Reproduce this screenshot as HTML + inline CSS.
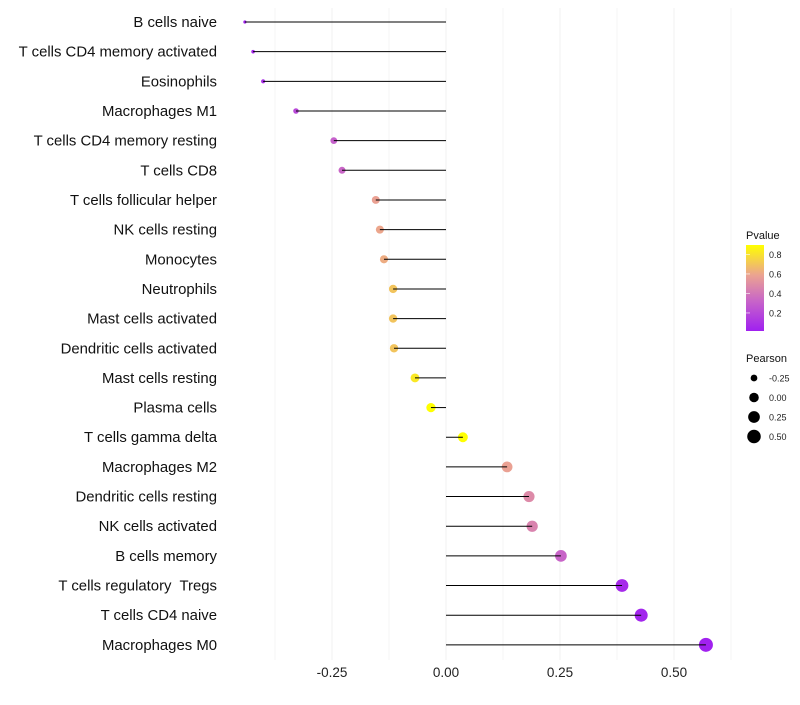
<!DOCTYPE html>
<html><head><meta charset="utf-8"><style>
body{margin:0;background:#fff;font-family:"Liberation Sans",sans-serif}
</style></head><body>
<svg id="c" width="800" height="700" xmlns="http://www.w3.org/2000/svg">
<defs><linearGradient id="pg" x1="0" y1="1" x2="0" y2="0">
<stop offset="0" stop-color="#a020f0"/><stop offset="0.35" stop-color="#c865c8"/><stop offset="0.65" stop-color="#eba391"/><stop offset="1" stop-color="#ffff00"/></linearGradient></defs>
</svg>
<script>
const categories=["B cells naive","T cells CD4 memory activated","Eosinophils","Macrophages M1","T cells CD4 memory resting","T cells CD8","T cells follicular helper","NK cells resting","Monocytes","Neutrophils","Mast cells activated","Dendritic cells activated","Mast cells resting","Plasma cells","T cells gamma delta","Macrophages M2","Dendritic cells resting","NK cells activated","B cells memory","T cells regulatory  Tregs","T cells CD4 naive","Macrophages M0"];
const pearson=[-0.441,-0.423,-0.401,-0.329,-0.246,-0.228,-0.154,-0.145,-0.136,-0.116,-0.116,-0.114,-0.068,-0.033,0.037,0.134,0.182,0.189,0.252,0.386,0.428,0.570];
const pvalue=[0.02,0.05,0.08,0.2,0.3,0.33,0.58,0.6,0.62,0.7,0.7,0.7,0.82,0.9,0.9,0.58,0.48,0.45,0.32,0.06,0.04,0.02];
const xTicks=[-0.25,0,0.25,0.5];
const xTickLabels=["-0.25","0.00","0.25","0.50"];
const pTicks=[0.2,0.4,0.6,0.8];
const sizeLegend=[-0.25,0,0.25,0.5];
const NS="http://www.w3.org/2000/svg",svg=document.getElementById('c');
function x(v){return 446+v*456;}
function y(i){return 22+i*29.66;}
function r(v){return Math.sqrt(Math.max(1,22.8+46*v));}
function pcol(p){const t=Math.max(0,Math.min(1,(p-0.015)/0.882));
 const st=[[0,[160,32,240]],[0.35,[200,101,200]],[0.65,[235,163,145]],[1,[255,255,0]]];
 for(let k=1;k<st.length;k++){if(t<=st[k][0]){const a=st[k-1],b=st[k],f=(t-a[0])/(b[0]-a[0]);
 return 'rgb('+a[1].map((c,j)=>Math.round(c+(b[1][j]-c)*f)).join(',')+')';}}return 'rgb(255,255,0)';}
function el(t,a,txt){const e=document.createElementNS(NS,t);for(const k in a)e.setAttribute(k,a[k]);if(txt!=null)e.textContent=txt;svg.appendChild(e);return e;}
for(let g=-0.375;g<=0.63;g+=0.125){const e=el('line',{x1:x(g),x2:x(g),y1:8,y2:660,stroke:'#f0f0f0','stroke-width':Math.abs(g/0.25-Math.round(g/0.25))<0.01?1:0.6});
}
xTicks.forEach((v,i)=>{const t=el('text',{x:x(v),y:677,'text-anchor':'middle','font-size':13.5,fill:'#222'},xTickLabels[i]);
});
categories.forEach((c,i)=>{
 const t=el('text',{x:217,y:y(i)+5,'text-anchor':'end','font-size':14.9,fill:'#111','xml:space':'preserve'},c);
 t.style.whiteSpace='pre';
 
 const d=el('circle',{cx:x(pearson[i]),cy:y(i),r:r(pearson[i]),fill:pcol(pvalue[i])});
 
 const l=el('line',{x1:x(0),x2:x(pearson[i]),y1:y(i),y2:y(i),stroke:'#000','stroke-width':1});
 
});
let t=el('text',{x:746,y:239,'font-size':11,fill:'#111'},'Pvalue');
let cb=el('rect',{x:746,y:245,width:18,height:86,fill:'url(#pg)'});
pTicks.forEach(p=>{const yy=331-(p-0.015)/0.882*86;
 const tl=el('text',{x:769,y:yy+3.5,'font-size':9,fill:'#222'},p.toFixed(1));
 const tk=el('line',{x1:746,x2:750,y1:yy,y2:yy,stroke:'#fff','stroke-width':0.6});});
t=el('text',{x:746,y:362,'font-size':11,fill:'#111'},'Pearson');
sizeLegend.forEach((v,i)=>{const yy=378+i*19.5;
 const c=el('circle',{cx:754,cy:yy,r:r(v),fill:'#000'});
 const tl=el('text',{x:769,y:yy+3.5,'font-size':9,fill:'#222'},v.toFixed(2));});
</script>
</body></html>
